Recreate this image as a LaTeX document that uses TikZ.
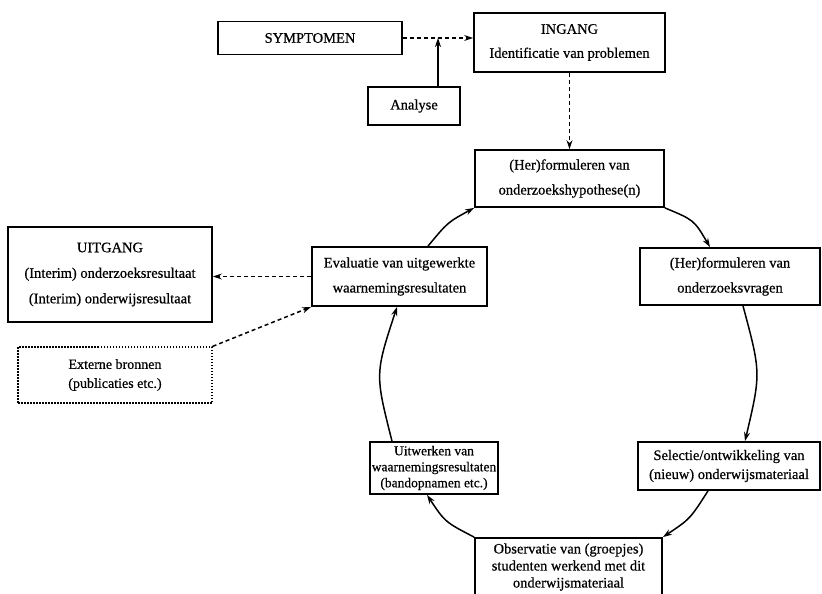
\documentclass[tikz,border=0pt]{standalone}
\usepackage{fontspec}
\setmainfont{Liberation Serif}[FakeBold=0.6]
\usetikzlibrary{arrows.meta}
\begin{document}
\begin{tikzpicture}[x=1pt,y=-1pt,
  box/.style={draw, line width=1.8pt, align=center, inner sep=0pt},
  arr/.style={line width=1.5pt, -{Stealth[length=9pt,width=6pt]}},
  dsh/.style={arr, dash pattern=on 4pt off 3pt},
  dotbox/.style={draw, line width=1.3pt, dash pattern=on 1.5pt off 1.5pt, align=center, inner sep=0pt}
]
\useasboundingbox (0,0) rectangle (822,594);

\node[box, minimum width=184pt, minimum height=33pt, font=\fontsize{14.5}{24}\selectfont] (sym) at (310,38) {SYMPTOMEN};
\node[box, minimum width=191pt, minimum height=59pt, font=\fontsize{14.5}{24}\selectfont] (ing) at (569.5,42.5) {INGANG\\Identificatie van problemen};
\node[box, minimum width=92pt, minimum height=38pt, font=\fontsize{14.5}{24}\selectfont] (ana) at (414,106) {Analyse};
\node[box, minimum width=189pt, minimum height=57pt, font=\fontsize{14.5}{25}\selectfont] (hyp) at (569.5,178.5) {(Her)formuleren van\\onderzoekshypothese(n)};
\node[box, minimum width=180pt, minimum height=57pt, font=\fontsize{14.5}{25}\selectfont] (vra) at (730,276.5) {(Her)formuleren van\\onderzoeksvragen};
\node[box, minimum width=175pt, minimum height=59pt, font=\fontsize{14.5}{25}\selectfont] (eva) at (399.5,276.5) {Evaluatie van uitgewerkte\\waarnemingsresultaten};
\node[box, minimum width=204pt, minimum height=95pt, font=\fontsize{14.5}{25.5}\selectfont] (uit) at (110,274.5) {UITGANG\\(Interim) onderzoeksresultaat\\(Interim) onderwijsresultaat};
\node[dotbox, minimum width=194pt, minimum height=56pt, font=\fontsize{14}{19}\selectfont] (ext) at (115,375) {Externe bronnen\\(publicaties etc.)};
\node[box, minimum width=128pt, minimum height=52pt, font=\fontsize{13.5}{16}\selectfont] (uitw) at (434,468) {Uitwerken van\\waarnemingsresultaten\\(bandopnamen etc.)};
\node[box, minimum width=182pt, minimum height=48pt, font=\fontsize{14.5}{19}\selectfont] (sel) at (729,466) {Selectie/ontwikkeling van\\(nieuw) onderwijsmateriaal};
\node[box, minimum width=187pt, minimum height=58pt, font=\fontsize{14.5}{17}\selectfont] (obs) at (568.5,567) {Observatie van (groepjes)\\studenten werkend met dit\\onderwijsmateriaal};

\coordinate (j) at (438,38);
\draw[dsh] (sym.east) -- (sym.east -| ing.west);
\draw[arr] (ana.north -| j) -- (j);
\draw[dsh] (ing.south) -- (hyp.north);

\draw[arr] (hyp.south east) .. controls (694,220) .. ([xshift=-20pt]vra.north);
\draw[arr] ([xshift=13pt]vra.south) .. controls (761,373) .. ([xshift=16pt]sel.north);
\draw[arr] ([xshift=-21pt]sel.south) .. controls (690,519) .. (obs.north east);
\draw[arr] (obs.north west) .. controls (445,522) .. ([xshift=-7pt]uitw.south);
\draw[arr] ([xshift=-42pt]uitw.north) .. controls (375,374) .. ([xshift=-2.5pt]eva.south);
\draw[arr] ([xshift=28.5pt]eva.north) .. controls (447.7,222.3) .. (hyp.south west);

\draw[dsh] (eva.west) -- (eva.west -| uit.east);
\draw[dsh] (ext.north east) -- (eva.south west);
\end{tikzpicture}
\end{document}
